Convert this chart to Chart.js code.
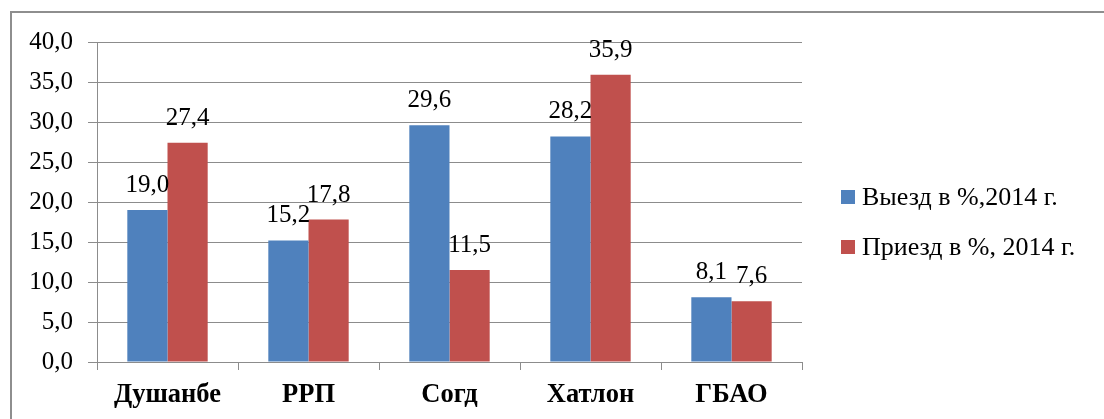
<!DOCTYPE html>
<html><head><meta charset="utf-8">
<script src="https://cdn.jsdelivr.net/npm/chart.js"></script>
<style>
html,body{margin:0;padding:0;background:#fff;overflow:hidden;width:1104px;height:419px}
canvas{display:block}
</style></head><body>
<canvas id="c" width="1104" height="419"></canvas>
<script>
const categories = ['Душанбе', 'РРП', 'Согд', 'Хатлон', 'ГБАО'];
const seriesNames = ['Выезд в %,2014 г.', 'Приезд в %, 2014 г.'];
const departures = [19.0, 15.2, 29.6, 28.2, 8.1];
const arrivals = [27.4, 17.8, 11.5, 35.9, 7.6];
const yTickLabels = ['0,0', '5,0', '10,0', '15,0', '20,0', '25,0', '30,0', '35,0', '40,0'];
const colors = ['#4F81BD', '#C0504D'];

const FAM = '"Liberation Serif", "Times New Roman", "DejaVu Serif", serif';
const fmt = v => v.toFixed(1).replace('.', ',');
const GRID = '#8c8c8c';

const frame = {
  id: 'frame',
  beforeDraw(chart) {
    const ctx = chart.ctx;
    ctx.save();
    ctx.fillStyle = '#fff';
    ctx.fillRect(0, 0, chart.width, chart.height);
    ctx.fillStyle = '#8e8e8e';
    ctx.fillRect(10, 11, chart.width - 10, 2);
    ctx.fillRect(10, 11, 2, chart.height - 11);
    ctx.restore();
  }
};

const dataLabels = {
  id: 'dataLabels',
  afterDatasetsDraw(chart) {
    const ctx = chart.ctx;
    ctx.save();
    ctx.font = '25px ' + FAM;
    ctx.fillStyle = '#000';
    ctx.textAlign = 'center';
    ctx.textBaseline = 'alphabetic';
    chart.data.datasets.forEach((ds, di) => {
      const meta = chart.getDatasetMeta(di);
      meta.data.forEach((bar, i) => {
        ctx.fillText(fmt(ds.data[i]), bar.x, bar.y - 18);
      });
    });
    ctx.restore();
  }
};

const sideLegend = {
  id: 'sideLegend',
  afterDraw(chart) {
    const ctx = chart.ctx;
    const x0 = chart.chartArea.right + 39;
    const baseTop = 190;
    ctx.save();
    ctx.font = '26px ' + FAM;
    ctx.textAlign = 'left';
    ctx.textBaseline = 'alphabetic';
    chart.data.datasets.forEach((ds, i) => {
      const top = baseTop + i * 50;
      ctx.fillStyle = ds.backgroundColor;
      ctx.fillRect(x0, top, 14, 14);
      ctx.fillStyle = '#000';
      ctx.fillText(ds.label, x0 + 21, top + 15);
    });
    ctx.restore();
  }
};

function build() {
  new Chart(document.getElementById('c'), {
    type: 'bar',
    data: {
      labels: categories,
      datasets: [
        { label: seriesNames[0], data: departures, backgroundColor: colors[0], categoryPercentage: 0.57, barPercentage: 1.0 },
        { label: seriesNames[1], data: arrivals, backgroundColor: colors[1], categoryPercentage: 0.57, barPercentage: 1.0 }
      ]
    },
    options: {
      responsive: false,
      devicePixelRatio: 1,
      animation: false,
      layout: { padding: { left: 0, top: 42, right: 302, bottom: 0 } },
      plugins: { legend: { display: false }, tooltip: { enabled: false } },
      scales: {
        x: {
          grid: { drawOnChartArea: false, drawTicks: true, tickLength: 8, color: GRID, lineWidth: 1 },
          border: { display: true, color: GRID, width: 1 },
          ticks: { color: '#000', padding: 9, font: { family: FAM, size: 26.5, weight: 'bold' } },
          afterFit(scale) { scale.height = 57; }
        },
        y: {
          min: 0, max: 40,
          ticks: {
            stepSize: 5, color: '#000', padding: 15,
            font: { family: FAM, size: 25 },
            callback: (v, i) => yTickLabels[i]
          },
          grid: { color: GRID, lineWidth: 1, tickLength: 9, drawTicks: true },
          border: { display: true, color: GRID, width: 1 },
          afterFit(scale) { scale.width = 97; }
        }
      }
    },
    plugins: [frame, dataLabels, sideLegend]
  });
}

Promise.all([
  document.fonts.load('25px "Liberation Serif"'),
  document.fonts.load('bold 26px "Liberation Serif"')
]).then(build, build);
</script>
</body></html>
